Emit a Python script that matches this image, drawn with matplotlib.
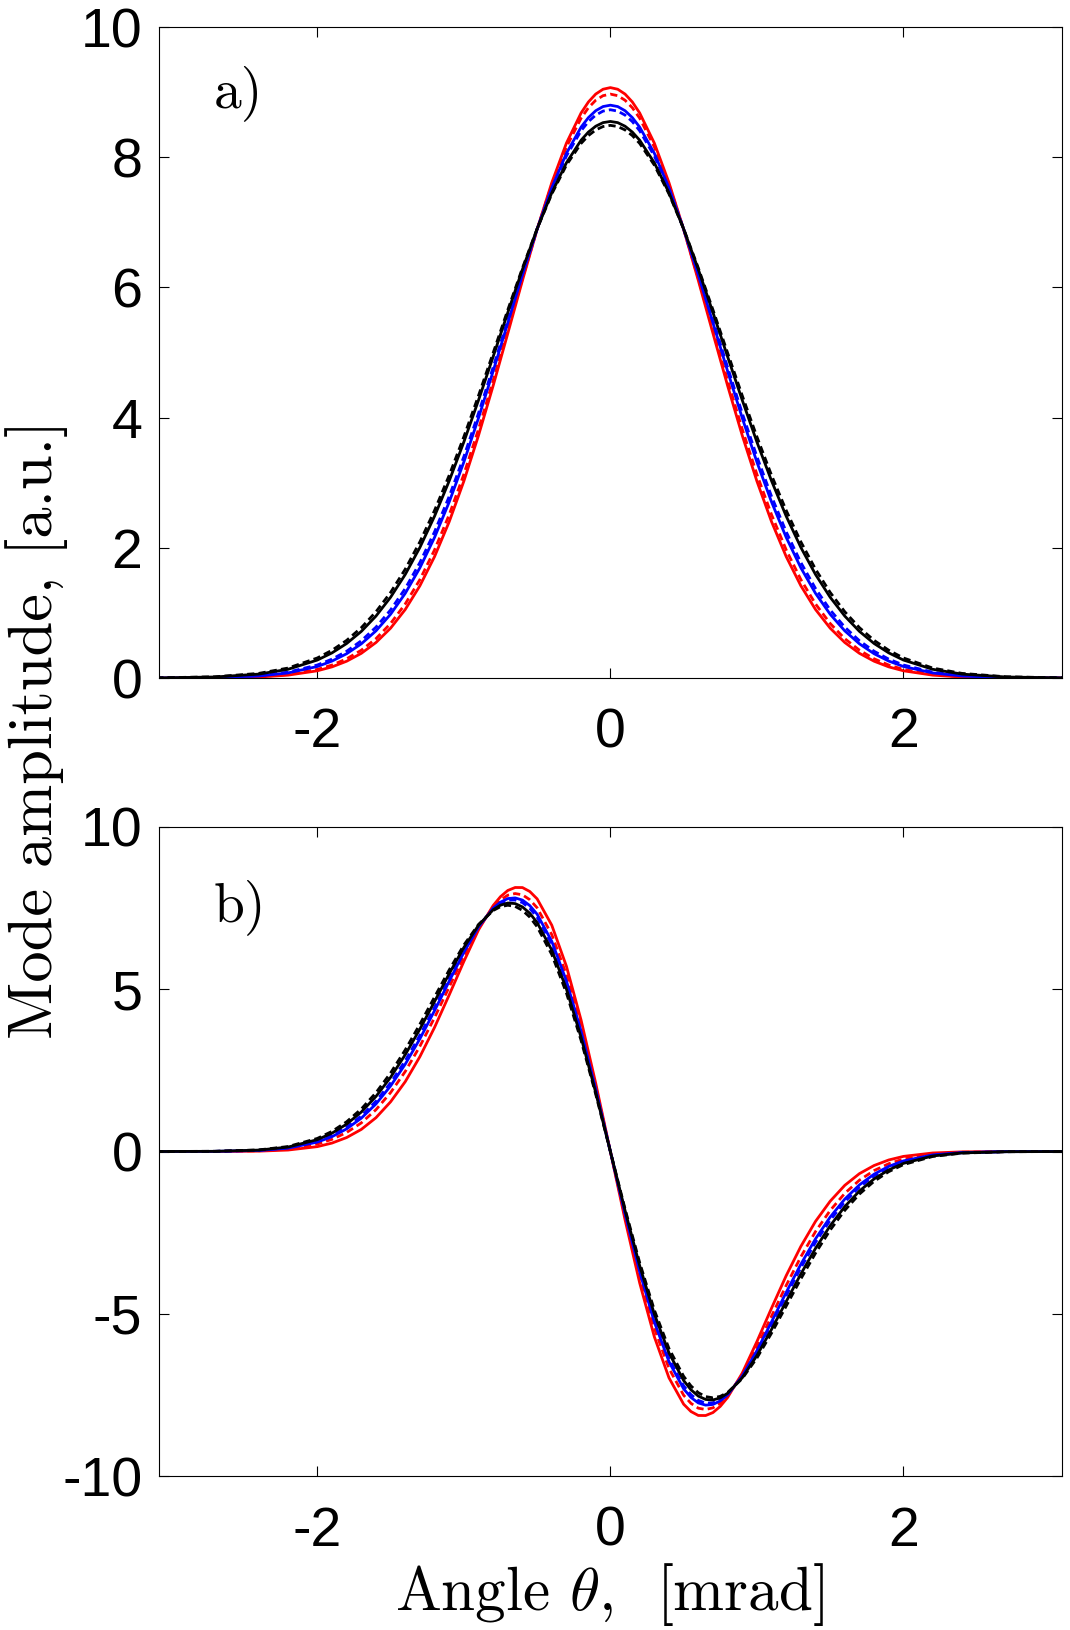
import numpy as np
from matplotlib import pyplot as plt
import matplotlib

matplotlib.rcParams["mathtext.fontset"] = "cm"
matplotlib.rcParams["font.family"] = ["Liberation Sans", "DejaVu Sans"]
matplotlib.rcParams["axes.unicode_minus"] = False
matplotlib.rcParams["xtick.labelsize"] = 40
matplotlib.rcParams["ytick.labelsize"] = 40

# angle grids [mrad]
theta_a = [-3.1, -2.7, -2.4, -2.2, -2.0, -1.9, -1.8, -1.7, -1.6, -1.5, -1.4, -1.3,
           -1.2, -1.1, -1.0, -0.9, -0.8, -0.7, -0.6, -0.5, -0.4, -0.3, -0.2, -0.15, -0.1, -0.05,
           0.0, 0.05, 0.1, 0.15, 0.2, 0.3, 0.4, 0.5, 0.6, 0.7, 0.8, 0.9, 1.0, 1.1, 1.2, 1.3,
           1.4, 1.5, 1.6, 1.7, 1.8, 1.9, 2.0, 2.2, 2.4, 2.7, 3.1]
theta_b = [-3.1, -2.7, -2.4, -2.2, -2.0, -1.9, -1.8, -1.7, -1.6, -1.5, -1.4, -1.3,
           -1.2, -1.1, -1.0, -0.9, -0.8, -0.75, -0.7, -0.65, -0.6, -0.55, -0.5, -0.4, -0.3, -0.2, -0.1,
           0.0, 0.1, 0.2, 0.3, 0.4, 0.5, 0.55, 0.6, 0.65, 0.7, 0.75, 0.8, 0.9, 1.0, 1.1, 1.2, 1.3,
           1.4, 1.5, 1.6, 1.7, 1.8, 1.9, 2.0, 2.2, 2.4, 2.7, 3.1]

# a) fundamental mode
a_red = [0.000, 0.003, 0.016, 0.045, 0.112, 0.172, 0.259, 0.380, 0.546, 0.767, 1.054, 1.418,
         1.866, 2.402, 3.025, 3.727, 4.492, 5.296, 6.109, 6.893, 7.609, 8.217, 8.680, 8.849, 8.971, 9.045,
         9.070, 9.045, 8.971, 8.849, 8.680, 8.217, 7.609, 6.893, 6.109, 5.296, 4.492, 3.727, 3.025, 2.402,
         1.866, 1.418, 1.054, 0.767, 0.546, 0.380, 0.259, 0.172, 0.112, 0.045, 0.016, 0.003, 0.000]
a_red_d = [0.000, 0.004, 0.021, 0.055, 0.133, 0.200, 0.296, 0.428, 0.605, 0.839, 1.139, 1.513,
           1.969, 2.509, 3.130, 3.823, 4.572, 5.354, 6.140, 6.894, 7.579, 8.159, 8.600, 8.760, 8.876, 8.946,
           8.970, 8.946, 8.876, 8.760, 8.600, 8.159, 7.579, 6.894, 6.140, 5.354, 4.572, 3.823, 3.130, 2.509,
           1.969, 1.513, 1.139, 0.839, 0.605, 0.428, 0.296, 0.200, 0.133, 0.055, 0.021, 0.004, 0.000]
a_blue = [0.001, 0.007, 0.032, 0.079, 0.178, 0.261, 0.374, 0.526, 0.725, 0.981, 1.302, 1.694,
          2.161, 2.705, 3.319, 3.995, 4.715, 5.457, 6.195, 6.896, 7.529, 8.061, 8.463, 8.609, 8.715, 8.779,
          8.800, 8.779, 8.715, 8.609, 8.463, 8.061, 7.529, 6.896, 6.195, 5.457, 4.715, 3.995, 3.319, 2.705,
          2.161, 1.694, 1.302, 0.981, 0.725, 0.526, 0.374, 0.261, 0.178, 0.079, 0.032, 0.007, 0.001]
a_blue_d = [0.001, 0.009, 0.038, 0.091, 0.201, 0.291, 0.412, 0.573, 0.782, 1.047, 1.376, 1.775,
            2.247, 2.791, 3.402, 4.069, 4.776, 5.501, 6.218, 6.897, 7.508, 8.020, 8.407, 8.547, 8.648, 8.709,
            8.730, 8.709, 8.648, 8.547, 8.407, 8.020, 7.508, 6.897, 6.218, 5.501, 4.776, 4.069, 3.402, 2.791,
            2.247, 1.775, 1.376, 1.047, 0.782, 0.573, 0.412, 0.291, 0.201, 0.091, 0.038, 0.009, 0.001]
a_black = [0.002, 0.017, 0.061, 0.135, 0.277, 0.387, 0.531, 0.717, 0.952, 1.242, 1.592, 2.007,
           2.487, 3.029, 3.627, 4.269, 4.938, 5.616, 6.279, 6.900, 7.454, 7.915, 8.262, 8.387, 8.477, 8.532,
           8.550, 8.532, 8.477, 8.387, 8.262, 7.915, 7.454, 6.900, 6.279, 5.616, 4.938, 4.269, 3.627, 3.029,
           2.487, 2.007, 1.592, 1.242, 0.952, 0.717, 0.531, 0.387, 0.277, 0.135, 0.061, 0.017, 0.002]
a_black_d = [0.003, 0.020, 0.072, 0.154, 0.309, 0.427, 0.579, 0.774, 1.018, 1.316, 1.673, 2.093,
             2.575, 3.115, 3.707, 4.339, 4.996, 5.657, 6.300, 6.902, 7.436, 7.880, 8.213, 8.333, 8.420, 8.472,
             8.490, 8.472, 8.420, 8.333, 8.213, 7.880, 7.436, 6.902, 6.300, 5.657, 4.996, 4.339, 3.707, 3.115,
             2.575, 2.093, 1.673, 1.316, 1.018, 0.774, 0.579, 0.427, 0.309, 0.154, 0.072, 0.020, 0.003]

# b) first-order mode
b_red = [0.000, 0.001, 0.011, 0.045, 0.150, 0.260, 0.430, 0.680, 1.040, 1.530, 2.150, 2.920,
         3.820, 4.820, 5.850, 6.820, 7.570, 7.843, 8.034, 8.125, 8.123, 8.002, 7.776, 6.965, 5.701, 4.045, 2.099,
         0.0, -2.099, -4.045, -5.701, -6.965, -7.776, -8.002, -8.123, -8.125, -8.034, -7.843, -7.570, -6.820,
         -5.850, -4.820, -3.820, -2.920, -2.150, -1.530, -1.040, -0.680, -0.430, -0.260, -0.150, -0.045,
         -0.011, -0.001, 0.000]
b_red_d = [0.000, 0.003, 0.023, 0.080, 0.231, 0.375, 0.586, 0.881, 1.286, 1.814, 2.463, 3.240,
           4.120, 5.066, 6.012, 6.874, 7.521, 7.744, 7.888, 7.939, 7.899, 7.750, 7.501, 6.676, 5.438, 3.845, 1.991,
           0.0, -1.991, -3.845, -5.438, -6.676, -7.501, -7.750, -7.899, -7.939, -7.888, -7.744, -7.521, -6.874,
           -6.012, -5.066, -4.120, -3.240, -2.463, -1.814, -1.286, -0.881, -0.586, -0.375, -0.231, -0.080,
           -0.023, -0.003, 0.000]
b_blue = [0.000, 0.004, 0.032, 0.104, 0.289, 0.457, 0.697, 1.026, 1.463, 2.018, 2.688, 3.469,
          4.335, 5.242, 6.128, 6.912, 7.486, 7.674, 7.784, 7.805, 7.737, 7.569, 7.304, 6.469, 5.249, 3.701, 1.914,
          0.0, -1.914, -3.701, -5.249, -6.469, -7.304, -7.569, -7.737, -7.805, -7.784, -7.674, -7.486, -6.912,
          -6.128, -5.242, -4.335, -3.469, -2.688, -2.018, -1.463, -1.026, -0.697, -0.457, -0.289, -0.104,
          -0.032, -0.004, 0.000]
b_blue_d = [0.000, 0.005, 0.037, 0.116, 0.317, 0.497, 0.751, 1.095, 1.548, 2.116, 2.795, 3.579,
            4.438, 5.327, 6.183, 6.931, 7.469, 7.640, 7.734, 7.741, 7.660, 7.482, 7.210, 6.370, 5.158, 3.632, 1.877,
            0.0, -1.877, -3.632, -5.158, -6.370, -7.210, -7.482, -7.660, -7.741, -7.734, -7.640, -7.469, -6.931,
            -6.183, -5.327, -4.438, -3.579, -2.795, -2.116, -1.548, -1.095, -0.751, -0.497, -0.317, -0.116,
            -0.037, -0.005, 0.000]
b_black = [0.000, 0.006, 0.044, 0.137, 0.365, 0.565, 0.843, 1.215, 1.694, 2.285, 2.981, 3.769,
           4.616, 5.473, 6.279, 6.963, 7.440, 7.581, 7.647, 7.630, 7.527, 7.332, 7.047, 6.198, 5.002, 3.514, 1.813,
           0.0, -1.813, -3.514, -5.002, -6.198, -7.047, -7.332, -7.527, -7.630, -7.647, -7.581, -7.440, -6.963,
           -6.279, -5.473, -4.616, -3.769, -2.981, -2.285, -1.694, -1.215, -0.843, -0.565, -0.365, -0.137,
           -0.044, -0.006, 0.000]
b_black_d = [0.000, 0.007, 0.050, 0.153, 0.403, 0.619, 0.916, 1.309, 1.809, 2.418, 3.128, 3.919,
             4.756, 5.588, 6.355, 6.988, 7.417, 7.535, 7.579, 7.543, 7.422, 7.214, 6.918, 6.063, 4.879, 3.420, 1.762,
             0.0, -1.762, -3.420, -4.879, -6.063, -6.918, -7.214, -7.422, -7.543, -7.579, -7.535, -7.417, -6.988,
             -6.355, -5.588, -4.756, -3.919, -3.128, -2.418, -1.809, -1.309, -0.916, -0.619, -0.403, -0.153,
             -0.050, -0.007, 0.000]

styles = [("red", "-"), ("red", "--"), ("blue", "-"), ("blue", "--"), ("black", "-"), ("black", "--")]
serif = ["cmr10", "DejaVu Serif"]


def drawPanel(ax, x, curves, yticks, label, label_y):
    for (color, ls), y in zip(styles, curves):
        line, = ax.plot(x, y, color=color, linestyle=ls, lw=2.0)
        if ls == "--":
            line.set_dashes((2.6, 1.5))
    ax.set_xlim(-3.08, 3.08)
    ax.set_ylim(yticks[0], yticks[-1])
    ax.set_xticks([-2, 0, 2])
    ax.set_yticks(yticks)
    ax.tick_params(direction="in", length=7, width=0.8, top=True, right=True)
    ax.tick_params(axis="x", pad=21)
    ax.tick_params(axis="y", pad=12)
    for s in ax.spines.values():
        s.set_linewidth(0.8)
    ax.text(0.06, label_y, label, transform=ax.transAxes, fontsize=40,
            family=serif, ha="left", va="center")


fig = plt.figure(figsize=(10.7, 16.3), dpi=100)
ax1 = fig.add_axes([0.1487, 0.5840, 0.8435, 0.3994])
ax2 = fig.add_axes([0.1487, 0.0942, 0.8435, 0.3987])

drawPanel(ax1, theta_a, [a_red, a_red_d, a_blue, a_blue_d, a_black, a_black_d],
          [0, 2, 4, 6, 8, 10], "a)", 0.898)
drawPanel(ax2, theta_b, [b_red, b_red_d, b_blue, b_blue_d, b_black, b_black_d],
          [-10, -5, 0, 5, 10], "b)", 0.876)

fig.text(0.034, 0.5525, "Mode amplitude, [a.u.]", rotation=90, family=serif,
         fontsize=45, ha="center", va="center")
fig.text(0.57, 0.022, r"Angle $\theta$,  [mrad]", family=serif,
         fontsize=44, ha="center", va="center")

fig.savefig("out.png", dpi=100)
plt.close(fig)
